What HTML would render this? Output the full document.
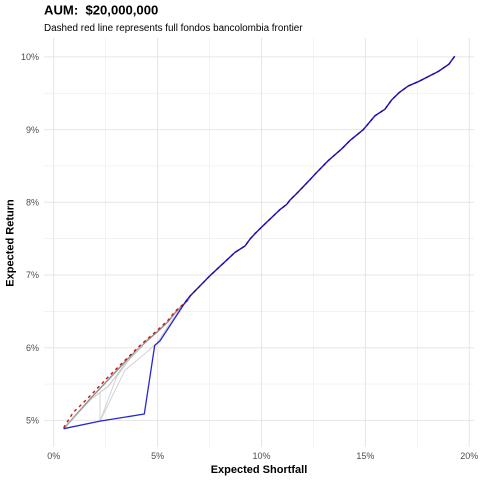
<!DOCTYPE html>
<html>
<head>
<meta charset="utf-8">
<title>AUM chart</title>
<style>
html,body{margin:0;padding:0;background:#fff;}
svg{display:block;font-family:"Liberation Sans",Arial,sans-serif;}
text{white-space:pre;}
</style>
</head>
<body>
<svg id="chart" width="480" height="480" viewBox="0 0 480 480" xmlns="http://www.w3.org/2000/svg">
  <rect x="0" y="0" width="480" height="480" fill="#ffffff"/>
  <g id="grid"></g>
  <g id="series"></g>
  <g id="ticks"></g>
  <text x="44" y="14.7" font-size="13.1" font-weight="bold" fill="#000">AUM:  $20,000,000</text>
  <text x="44" y="31" font-size="9.9" fill="#000">Dashed red line represents full fondos bancolombia frontier</text>
  <text x="259" y="473" font-size="11" font-weight="bold" text-anchor="middle" fill="#000">Expected Shortfall</text>
  <text transform="translate(13.5,243) rotate(-90)" font-size="11" font-weight="bold" text-anchor="middle" fill="#000">Expected Return</text>
</svg>
<script>
var xTicks = [0, 5, 10, 15, 20];
var xTickLabels = ["0%", "5%", "10%", "15%", "20%"];
var xMinorTicks = [2.5, 7.5, 12.5, 17.5];
var yTicks = [5, 6, 7, 8, 9, 10];
var yTickLabels = ["5%", "6%", "7%", "8%", "9%", "10%"];
var yMinorTicks = [5.5, 6.5, 7.5, 8.5, 9.5];

var sharedX = [6.56, 7.52, 8.72, 9.21, 9.45, 9.69, 10.01, 10.89, 11.21, 11.37, 11.69, 12.33, 12.62, 13.2, 13.84, 14.26, 14.9, 15.46, 15.94, 16.27, 16.63, 17.06, 17.55, 18.51, 19.02, 19.3];
var sharedY = [6.71, 6.99, 7.31, 7.40, 7.495, 7.57, 7.66, 7.9, 7.97, 8.03, 8.12, 8.31, 8.4, 8.57, 8.73, 8.85, 9.0, 9.19, 9.28, 9.41, 9.51, 9.6, 9.66, 9.8, 9.9, 10.01];

var blueX = [0.48, 2.23, 4.36, 4.86, 5.12, 6.4];
var blueY = [4.886, 4.99, 5.088, 6.03, 6.096, 6.656];

var redX = [0.48, 0.94, 1.27, 1.83, 2.63, 3.51, 4.23, 4.99, 5.51, 5.84, 6.48];
var redY = [4.9, 5.11, 5.2, 5.36, 5.6, 5.85, 6.05, 6.24, 6.38, 6.5, 6.66];

var grayAX = [0.48, 1.83, 2.63, 3.51, 4.23, 4.99, 5.51, 5.84, 6.48];
var grayAY = [4.886, 5.32, 5.56, 5.83, 6.03, 6.22, 6.36, 6.48, 6.66];
var grayBX = [0.48, 1.83, 2.63, 3.5, 4.3];
var grayBY = [4.886, 5.3, 5.47, 5.8, 6.03];
var grayCX = [2.23, 2.23];
var grayCY = [4.99, 5.39];
var grayDX = [2.23, 3.43, 4.31, 4.96, 5.6, 6.4];
var grayDY = [4.99, 5.69, 5.9, 6.06, 6.34, 6.66];
var grayEX = [2.23, 3.03, 3.51, 4.15, 4.6];
var grayEY = [4.99, 5.6, 5.79, 6.01, 6.15];

var SVG_NS = "http://www.w3.org/2000/svg";
var panelLeft = 44, panelRight = 474, panelTop = 38, panelBottom = 447;

function xScale(v) { return 53.7 + v * 20.78; }
function yScale(v) { return 420.4 - (v - 5) * 72.7; }

function makeLine(x1, y1, x2, y2, color, width) {
  var l = document.createElementNS(SVG_NS, "line");
  l.setAttribute("x1", x1);
  l.setAttribute("y1", y1);
  l.setAttribute("x2", x2);
  l.setAttribute("y2", y2);
  l.setAttribute("stroke", color);
  l.setAttribute("stroke-width", width);
  return l;
}

function makePath(xs, ys, color, width, dash, opacity) {
  var d = "";
  for (var i = 0; i < xs.length; i++) {
    d += (i ? "L" : "M") + xScale(xs[i]).toFixed(2) + " " + yScale(ys[i]).toFixed(2);
  }
  var p = document.createElementNS(SVG_NS, "path");
  p.setAttribute("d", d);
  p.setAttribute("fill", "none");
  p.setAttribute("stroke", color);
  p.setAttribute("stroke-width", width);
  p.setAttribute("stroke-linejoin", "round");
  if (dash) p.setAttribute("stroke-dasharray", dash);
  if (opacity) p.setAttribute("stroke-opacity", opacity);
  return p;
}

var grid = document.getElementById("grid");
var series = document.getElementById("series");
var ticks = document.getElementById("ticks");

yMinorTicks.forEach(function (v) {
  var l = makeLine(panelLeft, yScale(v), panelRight, yScale(v), "#eeeeee", 0.7);
  
  
  grid.appendChild(l);
});
xMinorTicks.forEach(function (v) {
  var l = makeLine(xScale(v), panelTop, xScale(v), panelBottom, "#eeeeee", 0.7);
  
  
  grid.appendChild(l);
});
yTicks.forEach(function (v, i) {
  var l = makeLine(panelLeft, yScale(v), panelRight, yScale(v), "#e6e6e6", 1);
  
  
  grid.appendChild(l);
  var t = document.createElementNS(SVG_NS, "text");
  
  
  t.setAttribute("x", 39);
  t.setAttribute("y", yScale(v) + 3.2);
  t.setAttribute("font-size", "9");
  t.setAttribute("text-anchor", "end");
  t.setAttribute("fill", "#4d4d4d");
  t.textContent = yTickLabels[i];
  ticks.appendChild(t);
});
xTicks.forEach(function (v, i) {
  var l = makeLine(xScale(v), panelTop, xScale(v), panelBottom, "#e6e6e6", 1);
  
  
  grid.appendChild(l);
  var t = document.createElementNS(SVG_NS, "text");
  
  
  t.setAttribute("x", xScale(v));
  t.setAttribute("y", 459);
  t.setAttribute("font-size", "9");
  t.setAttribute("text-anchor", "middle");
  t.setAttribute("fill", "#4d4d4d");
  t.textContent = xTickLabels[i];
  ticks.appendChild(t);
});

var grayA = makePath(grayAX.concat(sharedX), grayAY.concat(sharedY), "#8c8c8c", 1.5, null, 0.95);


series.appendChild(grayA);

var grayB = makePath(grayBX, grayBY, "#b5b5b5", 1, null, 0.8);


series.appendChild(grayB);

var grayC = makePath(grayCX, grayCY, "#c8c8c8", 1, null, 0.8);


series.appendChild(grayC);

var grayD = makePath(grayDX, grayDY, "#c8c8c8", 1, null, 0.8);


series.appendChild(grayD);

var grayE = makePath(grayEX, grayEY, "#c8c8c8", 1, null, 0.8);


series.appendChild(grayE);

var red = makePath(redX.concat(sharedX), redY.concat(sharedY), "#d01010", 1.4, "3 3.5");


series.appendChild(red);

var blue = makePath(blueX.concat(sharedX), blueY.concat(sharedY), "#0000d0", 1.3, null, 0.85);


series.appendChild(blue);
</script>
</body>
</html>
